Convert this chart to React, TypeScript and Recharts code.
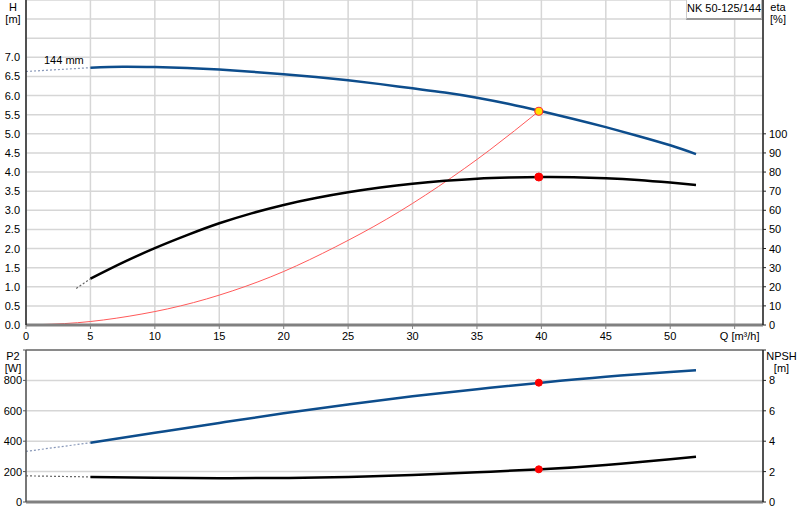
import React from 'react';
import {
  ComposedChart,
  Line,
  XAxis,
  YAxis,
  CartesianGrid,
  ReferenceDot,
  ReferenceLine
} from 'recharts';

// flow axis (m³/h)
const qTicks = [0, 5, 10, 15, 20, 25, 30, 35, 40, 45, 50, 55];
const hTicks = [0, 0.5, 1, 1.5, 2, 2.5, 3, 3.5, 4, 4.5, 5, 5.5, 6, 6.5, 7, 7.5, 8, 8.5];
const etaTicks = [0, 10, 20, 30, 40, 50, 60, 70, 80, 90, 100];
const p2Ticks = [0, 200, 400, 600, 800, 1000];
const npshTicks = [0, 2, 4, 6, 8, 10];

// head curve
const headQ = [5, 7.5, 10, 12.5, 15, 17.5, 20, 22.5, 25, 27.5, 30, 32.5, 35, 37.5, 40, 42.5, 45, 47.5, 50, 52];
const headH = [6.73, 6.755, 6.745, 6.72, 6.68, 6.625, 6.56, 6.485, 6.4, 6.3, 6.19, 6.08, 5.945, 5.78, 5.59, 5.39, 5.175, 4.945, 4.7, 4.47];
const headExtQ = [0, 5];
const headExtH = [6.63, 6.73];

// efficiency curve
const etaQ = [5, 7.5, 10, 12.5, 15, 17.5, 20, 22.5, 25, 27.5, 30, 32.5, 35, 37.5, 40, 42.5, 45, 47.5, 50, 52];
const etaVal = [24.2, 32.6, 40.2, 47.0, 53.2, 58.4, 62.8, 66.4, 69.4, 71.9, 73.9, 75.4, 76.5, 77.1, 77.4, 77.3, 76.8, 75.9, 74.5, 73.2];
const etaExtQ = [3.9, 5];
const etaExtVal = [19.1, 24.2];

// system curve
const sysQ = [0, 4, 8, 12, 16, 20, 24, 28, 32, 36, 39.8];
const sysH = [0, 0.06, 0.23, 0.5, 0.89, 1.4, 2.04, 2.77, 3.62, 4.58, 5.59];

// power curve
const p2Q = [5, 10, 15, 20, 25, 30, 35, 40, 45, 50, 52];
const p2Val = [390, 455, 520, 584, 642, 695, 742, 785, 824, 855, 866];
const p2ExtQ = [0, 5];
const p2ExtVal = [333, 390];

// NPSH curve
const npshQ = [5, 10, 15, 20, 25, 30, 35, 40, 45, 50, 52];
const npshVal = [1.65, 1.6, 1.57, 1.58, 1.65, 1.78, 1.96, 2.15, 2.44, 2.82, 2.97];
const npshExtQ = [0, 5];
const npshExtVal = [1.72, 1.65];

// duty point
const dutyQ = 39.8;
const dutyH = 5.59;
const dutyEta = 77.4;
const dutyP2 = 785;
const dutyNpsh = 2.15;

const toRows = (qs: number[], vs: number[]) => qs.map((q, i) => ({ q, v: vs[i] }));

const FONT = '"Liberation Sans", Arial, sans-serif';
const tickStyle = { fontSize: 11, fill: '#000', fontFamily: FONT };
const GRID = '#d6d6d6';
const BLUE = '#0d4d8c';

const makeTick = (max: number, fmt: (v: number) => string, anchor: 'start' | 'end') =>
  (props: any) => {
    const { x, y, payload } = props;
    if (payload.value > max) return <g />;
    return (
      <text x={x} y={y} dy={4} textAnchor={anchor} style={tickStyle}>
        {fmt(payload.value)}
      </text>
    );
  };

const QTick = (props: any) => {
  const { x, y, payload } = props;
  const label = payload.value === 55 ? 'Q [m³/h]' : String(payload.value);
  return (
    <text x={payload.value === 55 ? x + 5 : x} y={y} dy={9} textAnchor="middle" style={tickStyle}>
      {label}
    </text>
  );
};

const labelStyle: React.CSSProperties = {
  position: 'absolute',
  fontFamily: FONT,
  fontSize: 11,
  color: '#000',
  lineHeight: '12px',
  textAlign: 'center'
};

const App: React.FC = () => {
  return (
    <div style={{ position: 'absolute', left: 0, top: 0, width: 800, height: 520, background: '#fff', overflow: 'hidden' }}>
      <div style={{ position: 'absolute', left: 0, top: 0 }}>
        <ComposedChart width={800} height={345} margin={{ top: 0, right: 0, bottom: 0, left: 0 }}>
          <CartesianGrid stroke={GRID} strokeWidth={1.5} yAxisId="h" />
          <XAxis
            type="number"
            dataKey="q"
            domain={[0, 57.2]}
            ticks={qTicks}
            interval={0}
            height={20}
            axisLine={{ stroke: '#808080', strokeWidth: 3 }}
            tickLine={{ stroke: '#808080' }}
            tickSize={4}
            tick={<QTick />}
          />
          <YAxis
            yAxisId="h"
            type="number"
            domain={[0, 8.5]}
            ticks={hTicks}
            interval={0}
            width={26}
            axisLine={{ stroke: '#222', strokeWidth: 1.5 }}
            tickLine={false}
            tickSize={3}
            tickMargin={3}
            tick={makeTick(7, (v) => v.toFixed(1), 'end')}
          />
          <YAxis
            yAxisId="eta"
            orientation="right"
            type="number"
            domain={[0, 170]}
            ticks={etaTicks}
            interval={0}
            width={37}
            axisLine={{ stroke: '#222', strokeWidth: 1.5 }}
            tickLine={{ stroke: '#222' }}
            tickSize={3}
            tickMargin={3}
            tick={makeTick(100, (v) => String(v), 'start')}
          />
          <Line yAxisId="h" data={toRows(headExtQ, headExtH)} dataKey="v" type="monotone" stroke="#8797b8" strokeWidth={1.2} strokeDasharray="2 2" dot={false} isAnimationActive={false} />
          <Line yAxisId="eta" data={toRows(etaExtQ, etaExtVal)} dataKey="v" type="monotone" stroke="#666" strokeWidth={1.2} strokeDasharray="2 2" dot={false} isAnimationActive={false} />
          <Line yAxisId="h" data={toRows(sysQ, sysH)} dataKey="v" type="natural" stroke="#ff5a5a" strokeWidth={1} dot={false} isAnimationActive={false} />
          <Line yAxisId="eta" data={toRows(etaQ, etaVal)} dataKey="v" type="natural" stroke="#000" strokeWidth={2.5} dot={false} isAnimationActive={false} />
          <Line yAxisId="h" data={toRows(headQ, headH)} dataKey="v" type="natural" stroke={BLUE} strokeWidth={2.5} dot={false} isAnimationActive={false} />
          <ReferenceDot yAxisId="eta" x={dutyQ} y={dutyEta} r={4} fill="#ff0000" stroke="#ff0000" />
          <ReferenceDot yAxisId="h" x={dutyQ} y={dutyH} r={4} fill="#ffe000" stroke="#ff3030" strokeWidth={1.2} />
        </ComposedChart>
      </div>

      <div style={{ position: 'absolute', left: 0, top: 345 }}>
        <ComposedChart width={800} height={175} margin={{ top: 5, right: 0, bottom: 0, left: 0 }}>
          <CartesianGrid stroke={GRID} strokeWidth={1.5} yAxisId="p2" />
          <XAxis
            type="number"
            dataKey="q"
            domain={[0, 57.2]}
            ticks={qTicks}
            interval={0}
            height={18}
            axisLine={{ stroke: '#808080', strokeWidth: 3 }}
            tickLine={false}
            tick={false}
          />
          <YAxis
            yAxisId="p2"
            type="number"
            domain={[0, 1000]}
            ticks={p2Ticks}
            interval={0}
            width={26}
            axisLine={{ stroke: '#555', strokeWidth: 1.5 }}
            tickLine={{ stroke: '#555' }}
            tickSize={3}
            tickMargin={1}
            tick={makeTick(800, (v) => String(v), 'end')}
          />
          <YAxis
            yAxisId="npsh"
            orientation="right"
            type="number"
            domain={[0, 10]}
            ticks={npshTicks}
            interval={0}
            width={37}
            axisLine={{ stroke: '#222', strokeWidth: 1.5 }}
            tickLine={{ stroke: '#222' }}
            tickSize={3}
            tickMargin={3}
            tick={makeTick(8, (v) => String(v), 'start')}
          />
          <ReferenceLine yAxisId="p2" y={1000} stroke="#8a8a8a" strokeWidth={2} />
          <Line yAxisId="p2" data={toRows(p2ExtQ, p2ExtVal)} dataKey="v" type="monotone" stroke="#8797b8" strokeWidth={1.2} strokeDasharray="2 2" dot={false} isAnimationActive={false} />
          <Line yAxisId="npsh" data={toRows(npshExtQ, npshExtVal)} dataKey="v" type="monotone" stroke="#666" strokeWidth={1.2} strokeDasharray="2 2" dot={false} isAnimationActive={false} />
          <Line yAxisId="p2" data={toRows(p2Q, p2Val)} dataKey="v" type="natural" stroke={BLUE} strokeWidth={2.5} dot={false} isAnimationActive={false} />
          <Line yAxisId="npsh" data={toRows(npshQ, npshVal)} dataKey="v" type="natural" stroke="#000" strokeWidth={2.5} dot={false} isAnimationActive={false} />
          <ReferenceDot yAxisId="p2" x={dutyQ} y={dutyP2} r={3.5} fill="#ff0000" stroke="#ff0000" />
          <ReferenceDot yAxisId="npsh" x={dutyQ} y={dutyNpsh} r={3.5} fill="#ff0000" stroke="#ff0000" />
        </ComposedChart>
      </div>

      <div style={{ ...labelStyle, left: 2, top: 1, width: 22 }}>H<br />[m]</div>
      <div style={{ ...labelStyle, left: 764, top: 1, width: 28 }}>eta<br />[%]</div>
      <div style={{ ...labelStyle, left: 1, top: 350, width: 24 }}>P2<br />[W]</div>
      <div style={{ ...labelStyle, left: 763, top: 350, width: 37 }}>NPSH<br />[m]</div>
      <div style={{ ...labelStyle, left: 44, top: 54, textAlign: 'left' }}>144 mm</div>
      <div
        style={{
          ...labelStyle,
          left: 686,
          top: 0,
          width: 74,
          height: 18,
          lineHeight: '17px',
          background: '#fff',
          borderRight: '1px solid #bbb',
          borderBottom: '2px solid #999',
          borderLeft: '1px solid #ccc'
        }}
      >
        NK 50-125/144
      </div>
    </div>
  );
};

export default App;
